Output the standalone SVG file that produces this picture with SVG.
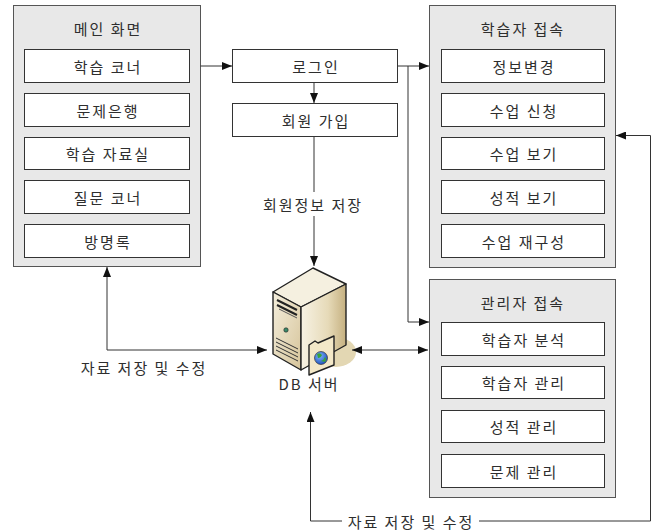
<svg xmlns="http://www.w3.org/2000/svg" width="661" height="531" viewBox="0 0 661 531">
  <defs>
    <style>
      .panel { fill: #e8e8e8; stroke: #555; stroke-width: 1; }
      .box { fill: #ffffff; stroke: #333; stroke-width: 1; }
      .lbl { font-family: "Noto Sans CJK KR", "Noto Sans", sans-serif; font-size: 15px; fill: #2e2e2e; text-anchor: middle; dominant-baseline: central; letter-spacing: 2px; }
      .wire { fill: none; stroke: #333; stroke-width: 1; }
      .wire-arrow { fill: none; stroke: #333; stroke-width: 1; marker-end: url(#arrow); }
      .edge { stroke: #222; stroke-width: 1.4; stroke-linejoin: round; }
    </style>
    <marker id="arrow" viewBox="0 0 10 8" refX="10" refY="4" markerWidth="10" markerHeight="8" markerUnits="userSpaceOnUse" orient="auto">
      <path d="M0,0 L10,4 L0,8 z" fill="#111"/>
    </marker>
    <marker id="arrowStart" viewBox="0 0 10 8" refX="0" refY="4" markerWidth="10" markerHeight="8" markerUnits="userSpaceOnUse" orient="auto">
      <path d="M10,0 L0,4 L10,8 z" fill="#111"/>
    </marker>
    <linearGradient id="frontFace" x1="0" y1="0" x2="1" y2="1">
      <stop offset="0" stop-color="#f4eedc"/>
      <stop offset="1" stop-color="#d6c49a"/>
    </linearGradient>
    <linearGradient id="sideFace" x1="0" y1="0" x2="1" y2="0">
      <stop offset="0" stop-color="#f7f2e4"/>
      <stop offset="0.6" stop-color="#e6dab8"/>
      <stop offset="1" stop-color="#c5b080"/>
    </linearGradient>
    <radialGradient id="globe" cx="0.4" cy="0.35" r="0.7">
      <stop offset="0" stop-color="#7fb4ff"/>
      <stop offset="1" stop-color="#1c4fb8"/>
    </radialGradient>
  </defs>

  <!-- main screen panel -->
  <g id="main-screen">
    <rect class="panel" x="13.5" y="5.5" width="187" height="261"/>
    <text class="lbl" x="108" y="28">메인 화면</text>
    <g id="study-corner"><rect class="box" x="24.5" y="49.5" width="165" height="33"/><text class="lbl" x="108" y="66">학습 코너</text></g>
    <g id="question-bank"><rect class="box" x="24.5" y="93.5" width="165" height="33"/><text class="lbl" x="108" y="110">문제은행</text></g>
    <g id="study-library"><rect class="box" x="24.5" y="137.5" width="165" height="32"/><text class="lbl" x="108" y="153.5">학습 자료실</text></g>
    <g id="qna-corner"><rect class="box" x="24.5" y="180.5" width="165" height="33"/><text class="lbl" x="108" y="197">질문 코너</text></g>
    <g id="guestbook"><rect class="box" x="24.5" y="224.5" width="165" height="33"/><text class="lbl" x="108" y="241">방명록</text></g>
  </g>

  <!-- login and sign-up -->
  <g id="login">
    <rect class="box" x="232.5" y="49.5" width="165" height="33"/>
    <text class="lbl" x="316" y="66">로그인</text>
  </g>
  <g id="signup">
    <rect class="box" x="232.5" y="103.5" width="165" height="33"/>
    <text class="lbl" x="316" y="120">회원 가입</text>
  </g>

  <!-- learner access panel -->
  <g id="learner-access">
    <rect class="panel" x="429.5" y="5.5" width="186" height="262"/>
    <text class="lbl" x="523" y="28">학습자 접속</text>
    <g id="profile-edit"><rect class="box" x="441.5" y="49.5" width="163" height="33"/><text class="lbl" x="524" y="66">정보변경</text></g>
    <g id="course-apply"><rect class="box" x="441.5" y="93.5" width="163" height="33"/><text class="lbl" x="524" y="110">수업 신청</text></g>
    <g id="course-view"><rect class="box" x="441.5" y="137.5" width="163" height="32"/><text class="lbl" x="524" y="153.5">수업 보기</text></g>
    <g id="grade-view"><rect class="box" x="441.5" y="180.5" width="163" height="33"/><text class="lbl" x="524" y="197">성적 보기</text></g>
    <g id="course-rebuild"><rect class="box" x="441.5" y="224.5" width="163" height="33"/><text class="lbl" x="524" y="241">수업 재구성</text></g>
  </g>

  <!-- administrator access panel -->
  <g id="admin-access">
    <rect class="panel" x="429.5" y="279.5" width="186" height="218"/>
    <text class="lbl" x="523" y="302">관리자 접속</text>
    <g id="learner-analysis"><rect class="box" x="441.5" y="322.5" width="163" height="33"/><text class="lbl" x="524" y="339">학습자 분석</text></g>
    <g id="learner-manage"><rect class="box" x="441.5" y="366.5" width="163" height="32"/><text class="lbl" x="524" y="382.5">학습자 관리</text></g>
    <g id="grade-manage"><rect class="box" x="441.5" y="410.5" width="163" height="32"/><text class="lbl" x="524" y="426.5">성적 관리</text></g>
    <g id="question-manage"><rect class="box" x="441.5" y="454.5" width="163" height="33"/><text class="lbl" x="524" y="471">문제 관리</text></g>
  </g>

  <!-- database server -->
  <g id="db-server">
    <ellipse cx="336" cy="352" rx="20" ry="15" fill="#e3d7b3"/>
    <!-- top face -->
    <polygon class="edge" points="273,292 313,268 346,284 301,307" fill="#f5f0e0"/>
    <!-- front face -->
    <polygon class="edge" points="273,292 301,307 301,370 273,354" fill="url(#frontFace)"/>
    <!-- side face -->
    <polygon class="edge" points="301,307 346,284 346,345 301,370" fill="url(#sideFace)"/>
    <!-- drive bays -->
    <path d="M277,300 L297,310 M277,305 L297,315" stroke="#222" stroke-width="2" fill="none"/>
    <path d="M279,309 L297,318" stroke="#555" stroke-width="1" fill="none"/>
    <circle cx="286" cy="330" r="2.2" fill="#3a8a6a" stroke="#222" stroke-width="0.6"/>
    <!-- vents -->
    <path d="M276,338 L298,349 M276,342 L298,353 M276,346 L298,357 M276,350 L298,361" stroke="#333" stroke-width="1" fill="none"/>
    <!-- folder with globe -->
    <polygon class="edge" points="309,345 315,341 318,343 334,336 334,365 309,375" fill="#f3e8c8"/>
    <circle cx="321" cy="358" r="6.5" fill="url(#globe)" stroke="#222" stroke-width="0.6"/>
    <path d="M317,354 q3,-2 5,1 q-1,3 -4,3 z M321,361 q3,-1 4,-4 q2,2 0,5 z" fill="#3aa33a"/>
    <text class="lbl" x="309" y="383">DB 서버</text>
  </g>

  <!-- connectors -->
  <g id="connectors">
    <path class="wire-arrow" d="M200.5,66 H232"/>
    <path class="wire-arrow" d="M314,82.5 V103"/>
    <path class="wire-arrow" d="M397.5,66 H429"/>
    <path class="wire-arrow" d="M408,66 V322 H429"/>
    <path class="wire" d="M314,137 V192"/>
    <text class="lbl" x="313" y="204">회원정보 저장</text>
    <path class="wire-arrow" d="M314,216 V266"/>
    <path class="wire-arrow" d="M107,350 V267"/>
    <path class="wire-arrow" d="M107,350 H267"/>
    <text class="lbl" x="144" y="367">자료 저장 및 수정</text>
    <path class="wire-arrow" d="M352,350 H428" marker-start="url(#arrowStart)"/>
    <path class="wire-arrow" d="M650.5,521 V135.5 H616"/>
    <path class="wire" d="M650.5,521 H479"/>
    <path class="wire-arrow" d="M342,521 H310.5 V412"/>
    <text class="lbl" x="411" y="521">자료 저장 및 수정</text>
  </g>
</svg>
